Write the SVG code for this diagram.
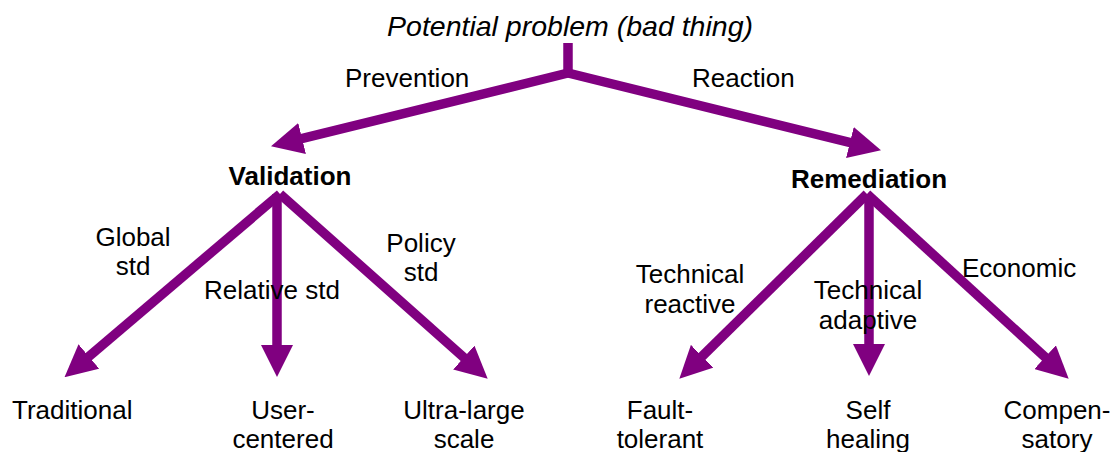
<svg xmlns="http://www.w3.org/2000/svg" width="1113" height="452" viewBox="0 0 1113 452">
<defs>
<marker id="ah" viewBox="0 0 32 32" markerUnits="userSpaceOnUse" markerWidth="32" markerHeight="32" refX="11" refY="16" orient="auto">
<path d="M0,0 L32,16 L0,32 z" fill="#800080"/>
</marker>
<style>
text{font-family:"Liberation Sans",Arial,sans-serif;font-size:26px;fill:#000}
.t{font-style:italic;font-size:28.5px}
.b{font-weight:bold}
.c{text-anchor:middle}
.e{fill:none;stroke:#800080;stroke-width:9.5}
.a{marker-end:url(#ah)}
</style>
</defs>
<rect width="1113" height="452" fill="#fff"/>
<g id="connectors">
<line class="e" x1="568" y1="43" x2="568" y2="75"/>
<line class="e a" x1="568" y1="73" x2="291.4" y2="141.2"/>
<line class="e a" x1="568" y1="73" x2="860.6" y2="145.2"/>
<line class="e a" x1="280" y1="194" x2="80.5" y2="363.6"/>
<line class="e a" x1="277" y1="194" x2="277" y2="356"/>
<line class="e a" x1="280" y1="194" x2="472" y2="364.8"/>
<line class="e a" x1="867" y1="194" x2="694.3" y2="364"/>
<line class="e a" x1="869" y1="194" x2="869" y2="355"/>
<line class="e a" x1="867" y1="194" x2="1053.2" y2="364.6"/>
</g>
<g id="labels">
<text x="345" y="87">Prevention</text>
<text x="692" y="87">Reaction</text>
<text class="c" x="133" y="246">Global</text>
<text class="c" x="133" y="275">std</text>
<text class="c" x="272" y="299">Relative std</text>
<text class="c" x="421" y="252">Policy</text>
<text class="c" x="421" y="281">std</text>
<text class="c" x="690" y="283">Technical</text>
<text class="c" x="690" y="313">reactive</text>
<text class="c" x="868" y="299">Technical</text>
<text class="c" x="868" y="329">adaptive</text>
<text x="962" y="277">Economic</text>
</g>
<g id="root"><text class="t c" x="570" y="36">Potential problem (bad thing)</text></g>
<g id="validation"><text class="b c" x="290" y="185">Validation</text></g>
<g id="remediation"><text class="b c" x="869" y="188">Remediation</text></g>
<g id="traditional"><text x="12" y="419">Traditional</text></g>
<g id="user-centered"><text class="c" x="283" y="419">User-</text><text class="c" x="283" y="448">centered</text></g>
<g id="ultra-large"><text class="c" x="464" y="419">Ultra-large</text><text class="c" x="464" y="448">scale</text></g>
<g id="fault-tolerant"><text class="c" x="660" y="419">Fault-</text><text class="c" x="660" y="448">tolerant</text></g>
<g id="self-healing"><text class="c" x="868" y="419">Self</text><text class="c" x="868" y="448">healing</text></g>
<g id="compensatory"><text class="c" x="1057" y="419">Compen-</text><text class="c" x="1057" y="448">satory</text></g>
</svg>
